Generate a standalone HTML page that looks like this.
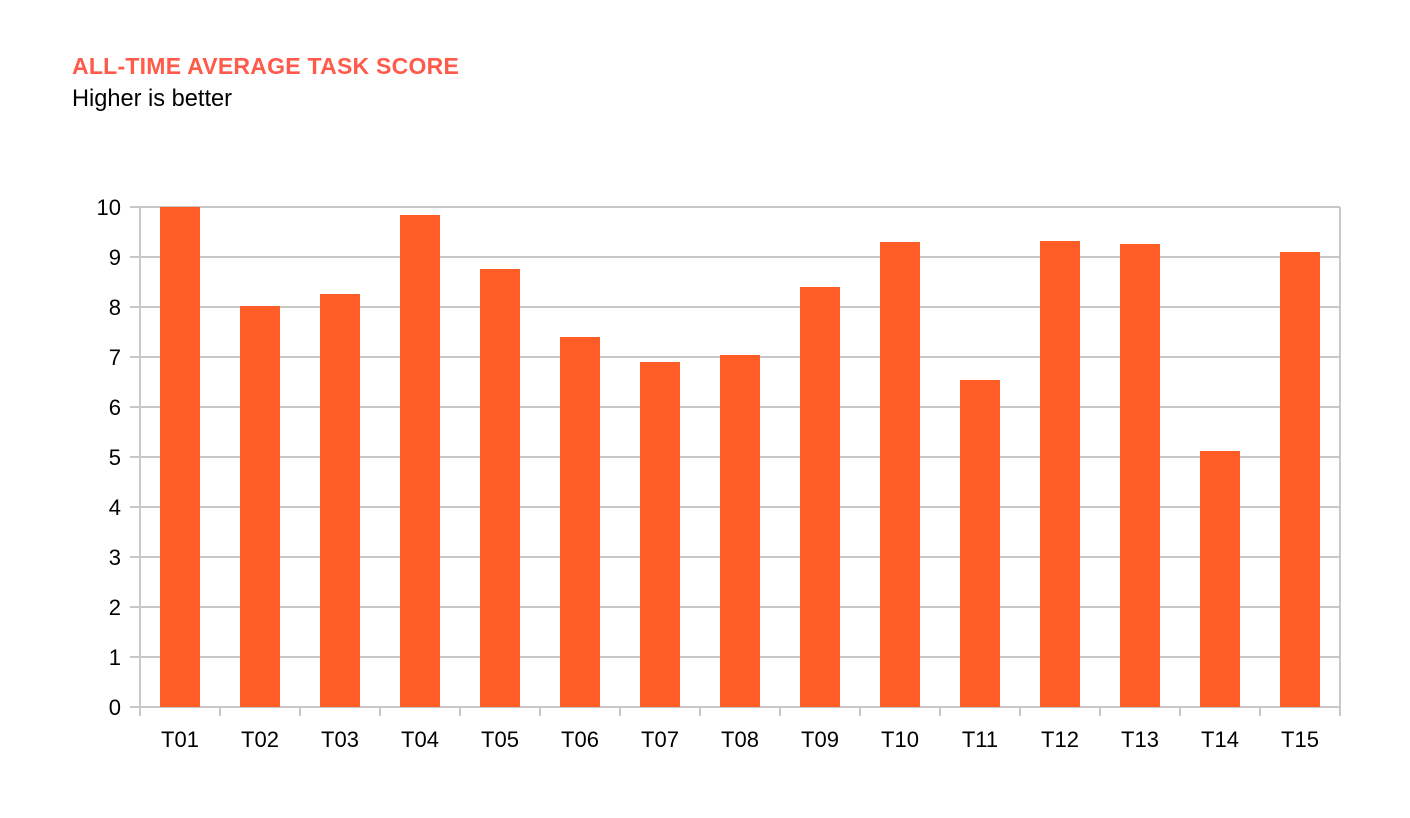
<!DOCTYPE html>
<html><head><meta charset="utf-8"><style>
body{margin:0;background:#fff;width:1410px;height:818px;overflow:hidden;font-family:"Liberation Sans",sans-serif}
#title{position:absolute;left:72px;top:53px;font-size:23px;font-weight:bold;color:#ff5a4a;letter-spacing:0.25px}
#sub{position:absolute;left:72px;top:86px;font-size:23.6px;color:#000}
svg{position:absolute;left:0;top:0}
</style></head><body>
<div id="title">ALL-TIME AVERAGE TASK SCORE</div>
<div id="sub">Higher is better</div>
<svg id="c" width="1410" height="818"></svg>
<script>
const categories=["T01","T02","T03","T04","T05","T06","T07","T08","T09","T10","T11","T12","T13","T14","T15"];
const values=[10.0,8.02,8.26,9.84,8.76,7.4,6.9,7.04,8.4,9.3,6.54,9.32,9.26,5.12,9.1];
const yTicks=[0,1,2,3,4,5,6,7,8,9,10];
const NS="http://www.w3.org/2000/svg";
const svg=document.getElementById('c');
const x0=140,x1=1340,yb=707,yt=207,ymax=10;
const bw=(x1-x0)/categories.length;
function ys(v){return yb-(v/ymax)*(yb-yt);}
function xs(i){return x0+i*bw;}
function mk(t,a){const e=document.createElementNS(NS,t);for(const k in a)e.setAttribute(k,a[k]);svg.appendChild(e);return e;}
yTicks.forEach(v=>{
  const l=mk('line',{x1:130,x2:x1,y1:ys(v),y2:ys(v),stroke:'#c8c8c8','stroke-width':2});
  
  
  const t=mk('text',{x:121,y:ys(v)+8,'text-anchor':'end','font-size':22,fill:'#000','font-family':'Liberation Sans, sans-serif'});
  t.textContent=v;
  
  
});
mk('line',{x1:x0,x2:x0,y1:yt,y2:716,stroke:'#c8c8c8','stroke-width':2});
mk('line',{x1:x1,x2:x1,y1:yt,y2:716,stroke:'#c8c8c8','stroke-width':2});
for(let i=1;i<categories.length;i++){mk('line',{x1:xs(i),x2:xs(i),y1:yb,y2:716,stroke:'#c8c8c8','stroke-width':2});}
categories.forEach((c,i)=>{
  const r=mk('rect',{x:xs(i)+bw/4,y:ys(values[i]),width:bw/2,height:yb-ys(values[i]),fill:'#ff5c26'});
  
  
  const t=mk('text',{x:xs(i)+bw/2,y:747,'text-anchor':'middle','font-size':22,fill:'#000','font-family':'Liberation Sans, sans-serif'});
  t.textContent=c;
  
  
});
</script>
</body></html>
